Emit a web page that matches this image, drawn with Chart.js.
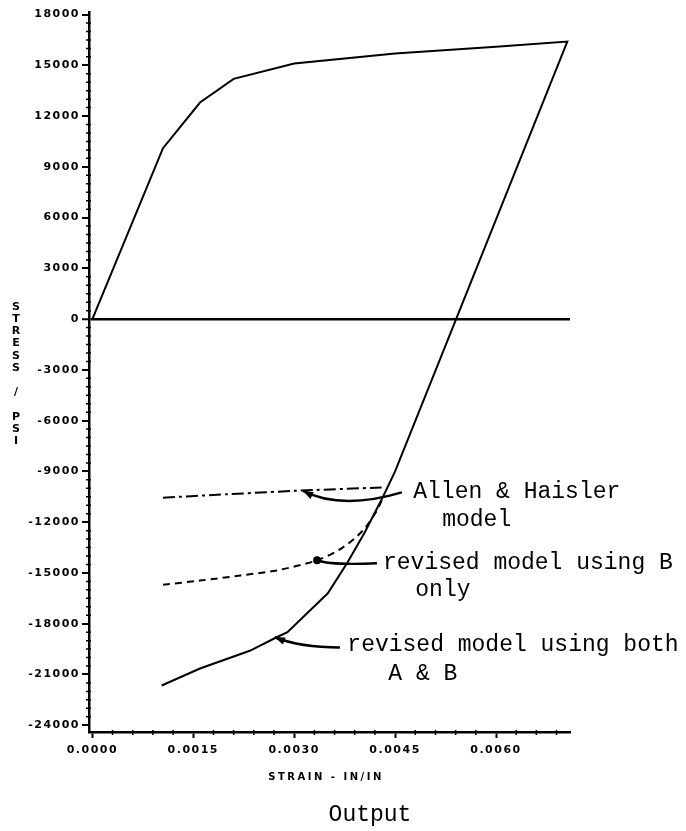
<!DOCTYPE html>
<html>
<head>
<meta charset="utf-8">
<script src="https://cdn.jsdelivr.net/npm/chart.js@4.4.0/dist/chart.umd.min.js"></script>
<style>
    html, body { margin: 0; padding: 0; background: #fff; }
    #wrap { width: 686px; height: 831px; }
</style>
</head>
<body>
<div id="wrap"><canvas id="stress-strain"></canvas></div>
<script>
/************** data ****************/
// loading curve, origin up to the peak
const loadStrain = [0, 0.00105, 0.0016, 0.0021, 0.003, 0.0045, 0.006, 0.00706];
const loadStress = [0, 10100, 12800, 14200, 15100, 15700, 16100, 16400];

// unloading / reversed loading (revised model using both A & B)
const unloadStrain = [0.0045, 0.00432, 0.00405, 0.00379, 0.0035, 0.0029, 0.00274, 0.00234, 0.0016, 0.00103];
const unloadStress = [-9000, -10500, -12600, -14400, -16200, -18500, -18800, -19600, -20650, -21650];

// Allen & Haisler model
const ahStrain = [0.00105, 0.002, 0.003, 0.0043];
const ahStress = [-10550, -10350, -10150, -9950];

// revised model using B only
const bStrain = [0.00105, 0.0016, 0.0022, 0.00274, 0.00334, 0.00372, 0.00402, 0.00423, 0.00432];
const bStress = [-15700, -15450, -15150, -14850, -14250, -13500, -12500, -11300, -10550];

const xTicks = [0, 0.0015, 0.003, 0.0045, 0.006];
const yTicks = [-24000, -21000, -18000, -15000, -12000, -9000, -6000, -3000, 0, 3000, 6000, 9000, 12000, 15000, 18000];

/************** helpers ****************/
function toPoints(xs, ys) {
    return xs.map((x, i) => ({ x: x, y: ys[i] }));
}

const solidCurve = toPoints(loadStrain, loadStress).concat(toPoints(unloadStrain, unloadStress));

const tickFont = { family: "'DejaVu Sans', sans-serif", size: 11, weight: "bold" };
const typeFont = "23px 'Liberation Mono', monospace";

// annotation text, anchored in data units
const notes = [
    { text: "Allen & Haisler", x: 0.00477, y: -10230 },
    { text: "model", x: 0.0052, y: -11890 },
    { text: "revised model using B", x: 0.00432, y: -14430 },
    { text: "only", x: 0.0048, y: -16030 },
    { text: "revised model using both", x: 0.00379, y: -19280 },
    { text: "A & B", x: 0.0044, y: -20940 }
];

// arrows: start, control, end (quadratic), in data units
const arrows = [
    { p0: [0.0046, -10240], c: [0.0037, -11300], p1: [0.00313, -10150], head: "tri" },
    { p0: [0.00423, -14430], c: [0.00353, -14550], p1: [0.00334, -14250], head: "dot" },
    { p0: [0.00368, -19400], c: [0.00309, -19400], p1: [0.00271, -18800], head: "tri" }
];

/************** plugins ****************/
const spacing = {
    id: "spacing",
    beforeUpdate(chart) { chart.ctx.letterSpacing = "1.5px"; },
    beforeDraw(chart) { chart.ctx.letterSpacing = "1.5px"; }
};

const extras = {
    id: "extras",
    afterDraw(chart) {
        const ctx = chart.ctx;
        const xs = chart.scales.x;
        const ys = chart.scales.y;
        const area = chart.chartArea;

        ctx.save();
        ctx.strokeStyle = "#000";
        ctx.fillStyle = "#000";

        // minor ticks
        ctx.lineWidth = 1.5;
        ctx.beginPath();
        for (let v = -24000; v <= 18000; v += 500) {
            if (v % 3000 === 0) continue;
            const py = ys.getPixelForValue(v);
            ctx.moveTo(area.left - 3, py);
            ctx.lineTo(area.left + 2, py);
        }
        for (let i = 1; i < 24; i++) {
            if (i % 5 === 0) continue;
            const px = xs.getPixelForValue(i * 0.0003);
            ctx.moveTo(px, area.bottom - 2);
            ctx.lineTo(px, area.bottom + 3);
        }
        ctx.stroke();

        // axis titles
        ctx.font = "bold 11px 'DejaVu Sans', sans-serif";
        ctx.textAlign = "center";
        ctx.textBaseline = "middle";
        ctx.letterSpacing = "0px";
        "STRESS / PSI".split("").forEach((ch, i) => {
            if (ch !== " ") ctx.fillText(ch, 16, 307 + i * 12.2);
        });
        ctx.font = "bold 10px 'DejaVu Sans', sans-serif";
        ctx.letterSpacing = "2.5px";
        ctx.fillText("STRAIN - IN/IN", 326, 777);

        // typed notes
        ctx.letterSpacing = "0px";
        ctx.font = typeFont;
        ctx.textAlign = "left";
        notes.forEach(n => {
            ctx.fillText(n.text, xs.getPixelForValue(n.x), ys.getPixelForValue(n.y));
        });
        ctx.textAlign = "center";
        ctx.fillText("Output", 370, 815);

        // arrows
        ctx.lineWidth = 2.5;
        arrows.forEach(a => {
            const x0 = xs.getPixelForValue(a.p0[0]), y0 = ys.getPixelForValue(a.p0[1]);
            const cx = xs.getPixelForValue(a.c[0]), cy = ys.getPixelForValue(a.c[1]);
            const x1 = xs.getPixelForValue(a.p1[0]), y1 = ys.getPixelForValue(a.p1[1]);
            ctx.beginPath();
            ctx.moveTo(x0, y0);
            ctx.quadraticCurveTo(cx, cy, x1, y1);
            ctx.stroke();
            const ang = Math.atan2(y1 - cy, x1 - cx);
            if (a.head === "dot") {
                ctx.beginPath();
                ctx.arc(x1, y1, 4, 0, Math.PI * 2);
                ctx.fill();
            } else {
                ctx.beginPath();
                ctx.moveTo(x1, y1);
                ctx.lineTo(x1 - 11 * Math.cos(ang - 0.35), y1 - 11 * Math.sin(ang - 0.35));
                ctx.lineTo(x1 - 11 * Math.cos(ang + 0.35), y1 - 11 * Math.sin(ang + 0.35));
                ctx.closePath();
                ctx.fill();
            }
        });
        ctx.restore();
    }
};

/************** chart ****************/
const config = {
    type: "scatter",
    data: {
        datasets: [
            {
                label: "revised model using both A & B",
                data: solidCurve,
                showLine: true,
                borderColor: "#000",
                borderWidth: 2,
                pointRadius: 0,
                tension: 0
            },
            {
                label: "Allen & Haisler model",
                data: toPoints(ahStrain, ahStress),
                showLine: true,
                borderColor: "#000",
                borderWidth: 2,
                borderDash: [12, 4, 3, 4],
                pointRadius: 0,
                tension: 0.2
            },
            {
                label: "revised model using B only",
                data: toPoints(bStrain, bStress),
                showLine: true,
                borderColor: "#000",
                borderWidth: 2,
                borderDash: [7, 5],
                pointRadius: 0,
                tension: 0.3
            }
        ]
    },
    options: {
        responsive: true,
        maintainAspectRatio: false,
        animation: false,
        devicePixelRatio: 1,
        layout: { padding: { top: 12, right: 116, left: 0, bottom: 0 } },
        plugins: {
            legend: { display: false },
            tooltip: { enabled: false }
        },
        scales: {
            x: {
                type: "linear",
                min: -0.00005,
                max: 0.0071,
                afterBuildTicks: s => { s.ticks = xTicks.map(v => ({ value: v })); },
                afterFit: s => { s.height = 99; },
                ticks: {
                    color: "#000",
                    font: tickFont,
                    padding: 6,
                    maxRotation: 0,
                    autoSkip: false,
                    callback: v => Number(v).toFixed(4)
                },
                grid: {
                    drawOnChartArea: false,
                    tickLength: 6,
                    tickWidth: 2,
                    tickColor: "#000"
                },
                border: { color: "#000", width: 2.5 }
            },
            y: {
                min: -24400,
                max: 18150,
                afterBuildTicks: s => { s.ticks = yTicks.map(v => ({ value: v })); },
                afterFit: s => { s.width = 89; },
                ticks: {
                    color: "#000",
                    font: tickFont,
                    padding: 2,
                    autoSkip: false,
                    callback: v => String(v)
                },
                grid: {
                    color: c => (c.tick && c.tick.value === 0 ? "#000" : "rgba(0,0,0,0)"),
                    lineWidth: c => (c.tick && c.tick.value === 0 ? 2.5 : 0),
                    tickLength: 7,
                    tickWidth: 2,
                    tickColor: "#000"
                },
                border: { color: "#000", width: 2.5 }
            }
        }
    },
    plugins: [spacing, extras]
};

new Chart(document.getElementById("stress-strain"), config);
</script>
</body>
</html>
